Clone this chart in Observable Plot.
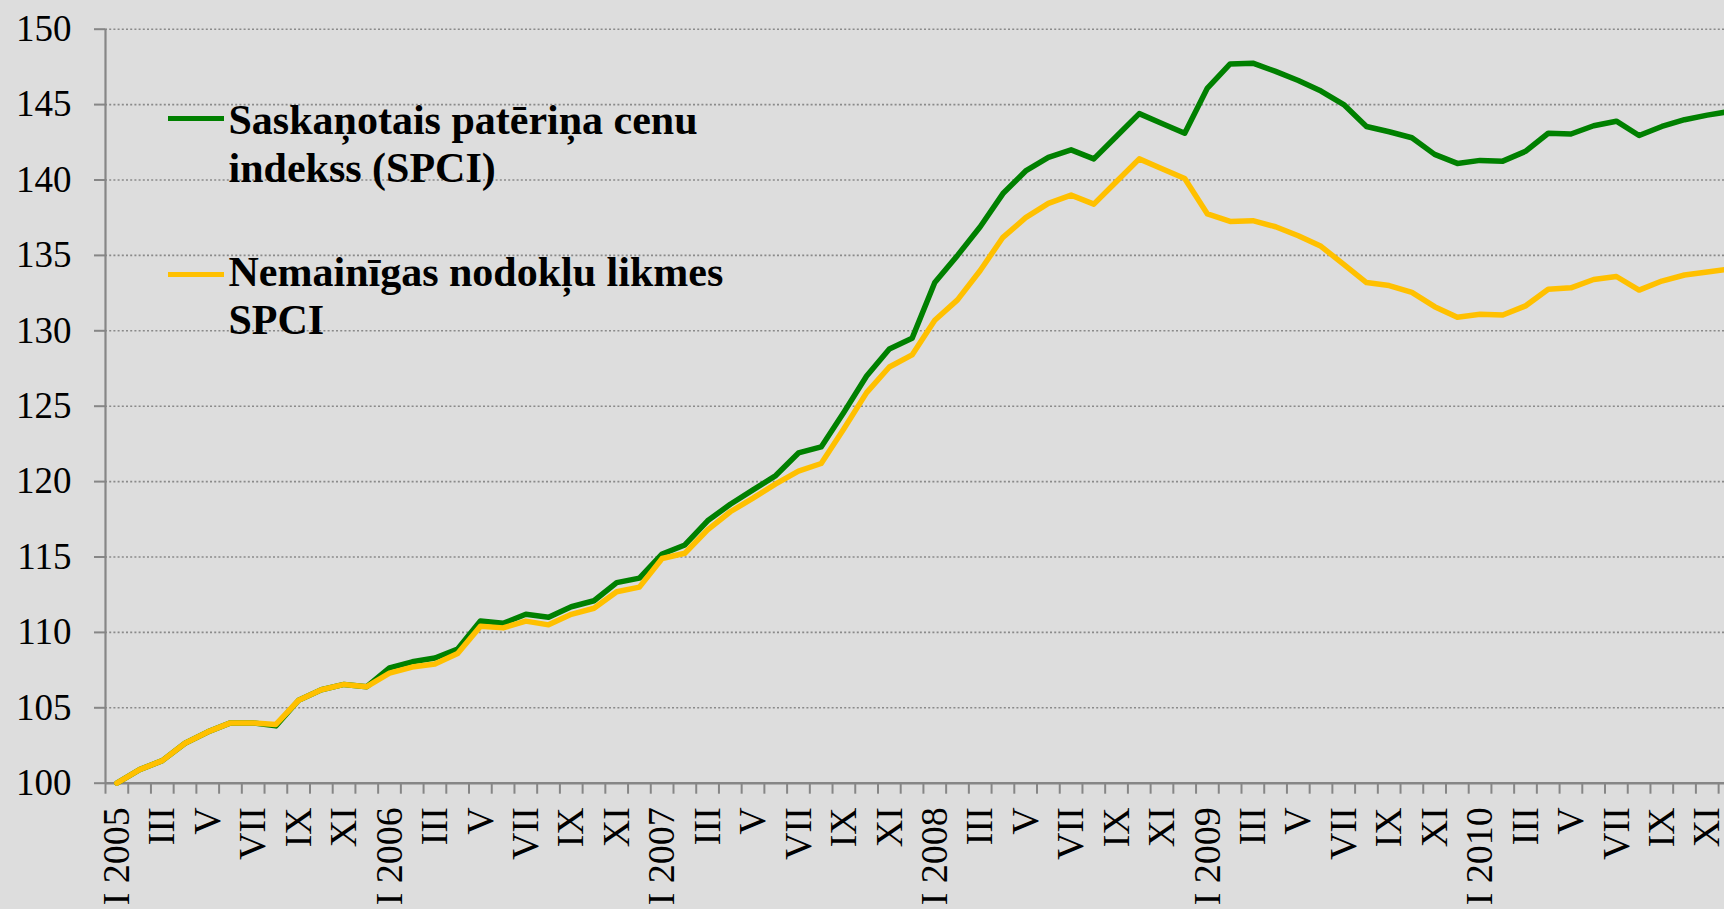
<!DOCTYPE html>
<html>
<head>
<meta charset="utf-8">
<script src="https://cdn.jsdelivr.net/npm/d3@7"></script>
<script src="https://cdn.jsdelivr.net/npm/@observablehq/plot@0.6"></script>
<style>
  html, body { margin: 0; padding: 0; background: #dddddd; overflow: hidden; }
  #wrap { position: relative; width: 1724px; height: 909px; }
  .leg { position: absolute; font-family: "Liberation Serif", "Times New Roman", serif; font-weight: bold; font-size: 42px; line-height: 47.7px; color: #000; white-space: nowrap; }
  .sw { position: absolute; width: 56px; height: 5px; }
</style>
</head>
<body>
<div id="wrap"></div>
<script>
// ---- data ----
const years = [2005, 2006, 2007, 2008, 2009, 2010];
const romanMonths = ["I", "II", "III", "IV", "V", "VI", "VII", "VIII", "IX", "X", "XI", "XII"];
const yTicks = [100, 105, 110, 115, 120, 125, 130, 135, 140, 145, 150];

// Saskaņotais patēriņa cenu indekss (SPCI), I 2005 = 100
const spci = [
  100.0, 100.9, 101.5, 102.65, 103.4, 104.0, 104.0, 103.8, 105.5, 106.2, 106.55, 106.4,
  107.65, 108.05, 108.3, 108.9, 110.75, 110.6, 111.2, 111.0, 111.7, 112.1, 113.3, 113.6,
  115.2, 115.8, 117.4, 118.5, 119.45, 120.4, 121.9, 122.3, 124.6, 127.0, 128.8, 129.5,
  133.2, 135.0, 136.9, 139.1, 140.6, 141.5, 142.0, 141.4, 142.9, 144.4, 143.75, 143.1,
  146.1, 147.7, 147.75, 147.2, 146.6, 145.9, 145.0, 143.55, 143.2, 142.8, 141.7, 141.1,
  141.3, 141.25, 141.9, 143.1, 143.05, 143.6, 143.9, 142.95, 143.55, 144.0, 144.3, 144.55
];
// Nemainīgas nodokļu likmes SPCI
const spciConstTax = [
  100.0, 100.9, 101.5, 102.65, 103.4, 104.0, 104.0, 103.9, 105.5, 106.2, 106.55, 106.4,
  107.3, 107.7, 107.9, 108.6, 110.4, 110.3, 110.75, 110.5, 111.2, 111.6, 112.7, 113.0,
  114.9, 115.25, 116.8, 118.0, 118.9, 119.85, 120.7, 121.2, 123.5, 125.9, 127.6, 128.4,
  130.7, 132.05, 134.0, 136.2, 137.5, 138.45, 139.0, 138.4, 139.9, 141.4, 140.75, 140.1,
  137.75, 137.25, 137.3, 136.9, 136.3, 135.6, 134.4, 133.2, 133.0, 132.55, 131.6, 130.9,
  131.1, 131.05, 131.65, 132.75, 132.85, 133.4, 133.6, 132.7, 133.3, 133.7, 133.9, 134.1
];
const seriesNames = ["Saskaņotais patēriņa cenu indekss (SPCI)", "Nemainīgas nodokļu likmes SPCI"];
const seriesColors = ["#008000", "#FFC000"];

// ---- derived ----
const monthLabels = years.flatMap(y => romanMonths.map((m, j) => j === 0 ? `${m} ${y}` : m));
const n = monthLabels.length;
const idx = d3.range(n);
const labelIdx = idx.filter(i => i % 2 === 0);
const boundaries = d3.range(n + 1).map(i => i - 0.5);

const axisColor = "#868686";
const band = 22.72;
const x0 = 105;

const chart = Plot.plot({
  width: 1724,
  height: 909,
  marginLeft: x0,
  marginRight: 0,
  marginTop: 28.7,
  marginBottom: 126.3,
  style: { background: "#dddddd", fontFamily: "Liberation Serif, Times New Roman, serif", color: "#000", overflow: "hidden" },
  x: { type: "linear", domain: [-0.5, n - 0.5], range: [x0, x0 + n * band] },
  y: { domain: [100, 150] },
  marks: [
    Plot.gridY(yTicks.filter(t => t > 100), { stroke: "#8a8a8a", strokeOpacity: 1, strokeWidth: 1.6, strokeDasharray: "2,2.2" }),
    Plot.axisY(yTicks, { tickSize: 11, tickPadding: 23, fontSize: 37, stroke: axisColor, strokeWidth: 2, label: null, tickFormat: d => String(d) }),
    Plot.axisX(boundaries, { tickSize: 11, tickFormat: () => "", stroke: axisColor, strokeWidth: 2, label: null }),
    Plot.axisX(labelIdx, { tickSize: 0, tickPadding: 24, tickRotate: -90, fontSize: 38, tickFormat: i => monthLabels[i], label: null }),
    Plot.ruleX([-0.5], { stroke: axisColor, strokeWidth: 2.2 }),
    Plot.ruleY([100], { stroke: axisColor, strokeWidth: 2.5 }),
    Plot.line(idx, { x: i => i, y: i => spci[i], stroke: seriesColors[0], strokeWidth: 5.5, strokeLinejoin: "round" }),
    Plot.line(idx, { x: i => i, y: i => spciConstTax[i], stroke: seriesColors[1], strokeWidth: 5.5, strokeLinejoin: "round" })
  ]
});

const wrap = document.getElementById("wrap");
wrap.appendChild(chart);

// legend (HTML overlay)
const legendEntries = [
  { lines: ["Saskaņotais patēriņa cenu", "indekss (SPCI)"], color: seriesColors[0], lineY: 118, top: 97 },
  { lines: ["Nemainīgas nodokļu likmes", "SPCI"], color: seriesColors[1], lineY: 274, top: 249 }
];
legendEntries.forEach(e => {
  const sw = document.createElement("div");
  sw.className = "sw";
  sw.style.left = "168px";
  sw.style.top = (e.lineY - 2.5) + "px";
  sw.style.background = e.color;
  wrap.appendChild(sw);
  const t = document.createElement("div");
  t.className = "leg";
  t.style.left = "228.5px";
  t.style.top = e.top + "px";
  t.innerHTML = e.lines.join("<br>");
  wrap.appendChild(t);
});
</script>
</body>
</html>
